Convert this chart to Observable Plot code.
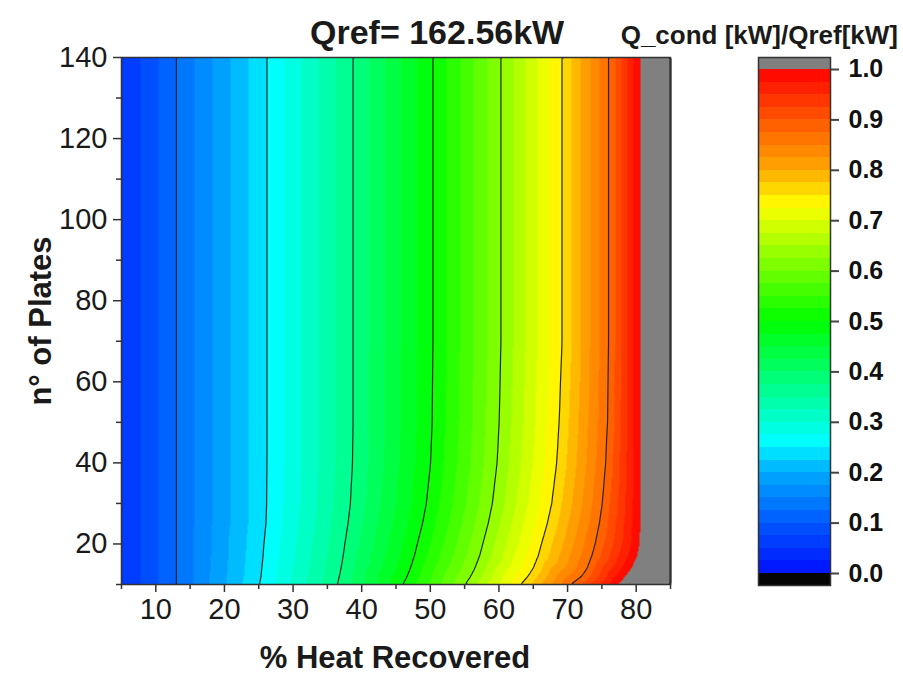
<!DOCTYPE html>
<html>
<head>
<meta charset="utf-8">
<script src="https://cdn.jsdelivr.net/npm/d3@7"></script>
<script src="https://cdn.jsdelivr.net/npm/@observablehq/plot@0.6"></script>
<style>
  body { margin: 0; background: #fff; }
  #wrap { position: relative; width: 903px; height: 683px; overflow: hidden; background: #fff; }
  #wrap > svg, #wrap > figure { position: absolute; margin: 0; }
</style>
</head>
<body>
<div id="wrap"></div>
<script>
// ---------------- data ----------------
// Q_cond/Qref level of each contour crossing
const levels = [0.125, 0.25, 0.375, 0.5, 0.625, 0.75, 0.875, 1.0];
// rows (n° of plates) at which the crossings were read
const plateRows = [10, 12, 14, 17, 20, 25, 30, 40, 50, 70, 140];
// % heat recovered where each level is crossed, one list per row
const crossingX = [
  [13.0, 25.10, 36.45, 46.00, 55.10, 63.20, 70.50, 77.40],
  [13.0, 25.34, 36.75, 46.62, 55.88, 64.22, 72.04, 78.42],
  [13.0, 25.45, 37.00, 47.10, 56.50, 65.00, 72.86, 79.32],
  [13.0, 25.63, 37.30, 47.67, 57.18, 65.72, 73.53, 80.12],
  [13.0, 25.76, 37.55, 48.11, 57.65, 66.20, 74.02, 80.50],
  [13.0, 26.05, 38.01, 48.86, 58.43, 67.04, 74.63, 80.60],
  [13.0, 26.15, 38.36, 49.43, 59.05, 67.70, 75.07, 80.60],
  [13.0, 26.20, 38.66, 50.05, 59.73, 68.42, 75.56, 80.60],
  [13.0, 26.20, 38.75, 50.27, 60.04, 68.78, 75.83, 80.60],
  [13.0, 26.20, 38.75, 50.40, 60.30, 69.20, 76.00, 80.60],
  [13.0, 26.20, 38.75, 50.40, 60.30, 69.20, 76.00, 80.60]
];
// values at the left and right edges of the plotted range
const edgeX = [5, 85];
const edgeValue = [0.048, 1.2];
// contour lines drawn in black
const lineLevels = [0.125, 0.25, 0.375, 0.5, 0.625, 0.75, 0.875];
// axes
const xDomain = [5, 85];
const yDomain = [10, 140];
const xTicks = [10, 20, 30, 40, 50, 60, 70, 80];
const xMinorTicks = [5, 15, 25, 35, 45, 55, 65, 75, 85];
const yTicks = [20, 40, 60, 80, 100, 120, 140];
const yMinorTicks = [10, 30, 50, 70, 90, 110, 130];
const colorTicks = [0, 0.1, 0.2, 0.3, 0.4, 0.5, 0.6, 0.7, 0.8, 0.9, 1.0];
const titleText = "Qref= 162.56kW";
const legendTitle = "Q_cond [kW]/Qref[kW]";
const xLabel = "% Heat Recovered";
const yLabel = "n\u00b0 of Plates";

// ---------------- build table ----------------
const points = [];
plateRows.forEach((n, i) => {
  points.push({x: edgeX[0], n, v: edgeValue[0]});
  crossingX[i].forEach((x, j) => points.push({x, n, v: levels[j]}));
  points.push({x: edgeX[1], n, v: edgeValue[1]});
});

// ---------------- colour map (style) ----------------
const rainbow = d3.scaleLinear()
  .domain([0, 0.1, 0.2, 0.26, 0.5, 0.73, 0.8, 0.9, 1.0])
  .range(["#0010ff", "#0058ff", "#00aaff", "#00ffff", "#00ff00", "#ffff00", "#ffa800", "#ff5600", "#ff0000"])
  .interpolate(d3.interpolateRgb).clamp(true);
const nBands = 40;
const bandEdges = d3.range(nBands + 1).map(i => i / nBands);
const bandColors = ["#050505", ...d3.range(nBands).map(i => rainbow((i + 0.5) / nBands)), "#808080"];
const colorScale = {type: "threshold", domain: bandEdges, range: bandColors};

const font = "'Liberation Sans', Arial, sans-serif";
const wrap = document.getElementById("wrap");

// ---------------- main plot ----------------
const main = Plot.plot({
  width: 700, height: 683,
  marginLeft: 121, marginRight: 30, marginTop: 57, marginBottom: 99,
  x: {domain: xDomain, label: null},
  y: {domain: yDomain, label: null},
  color: colorScale,
  style: {fontFamily: font, fontSize: "29px", color: "#1a1a1a", background: "transparent", overflow: "visible"},
  marks: [
    Plot.raster(points, {x: "x", y: "n", fill: "v", interpolate: "barycentric", pixelSize: 1}),
    Plot.contour(points, {x: "x", y: "n", value: "v", interpolate: "barycentric", thresholds: lineLevels,
      stroke: "#262626", strokeWidth: 1.2, fill: "none"}),
    Plot.frame({stroke: "#333", strokeWidth: 1.5}),
    Plot.axisX({ticks: xTicks, tickSize: 8, tickPadding: 6, label: null, stroke: "#333", strokeWidth: 1.5}),
    Plot.axisX({ticks: xMinorTicks, tickSize: 5, tickFormat: () => "", label: null, stroke: "#333", strokeWidth: 1.5}),
    Plot.axisY({ticks: yTicks, tickSize: 8, tickPadding: 6, label: null, stroke: "#333", strokeWidth: 1.5}),
    Plot.axisY({ticks: yMinorTicks, tickSize: 5, tickFormat: () => "", label: null, stroke: "#333", strokeWidth: 1.5})
  ]
});
main.style.left = "0px"; main.style.top = "0px";
wrap.appendChild(main);

// ---------------- colour bar ----------------
const bands = [
  {lo: -0.0238, hi: 0, mid: -0.01},
  ...d3.range(nBands).map(i => ({lo: bandEdges[i], hi: bandEdges[i + 1], mid: (i + 0.5) / nBands})),
  {lo: 1, hi: 1.0238, mid: 1.01}
];
const bar = Plot.plot({
  width: 163, height: 683,
  marginLeft: 18, marginRight: 73, marginTop: 57, marginBottom: 98,
  x: {domain: [0, 1], axis: null},
  y: {domain: [-0.0238, 1.0238], label: null},
  color: colorScale,
  style: {fontFamily: font, fontSize: "25px", fontWeight: "bold", color: "#111", background: "transparent", overflow: "visible"},
  marks: [
    Plot.rect(bands, {x1: 0, x2: 1, y1: "lo", y2: "hi", fill: "mid", shapeRendering: "crispEdges"}),
    Plot.frame({stroke: "#333", strokeWidth: 1.5}),
    Plot.axisY({anchor: "right", ticks: colorTicks, tickFormat: d3.format(".1f"), tickSize: 8, tickPadding: 10,
      label: null, stroke: "#444", strokeWidth: 2})
  ]
});
bar.style.left = "740px"; bar.style.top = "0px";
wrap.appendChild(bar);

// ---------------- titles and axis labels ----------------
const overlay = d3.create("svg").attr("width", 903).attr("height", 683)
  .style("left", "0px").style("top", "0px").style("pointer-events", "none")
  .attr("font-family", font).attr("font-weight", "bold").attr("fill", "#1a1a1a");
overlay.append("text").attr("x", 310).attr("y", 44).attr("font-size", 34).text(titleText);
overlay.append("text").attr("x", 898).attr("y", 44).attr("font-size", 26).attr("text-anchor", "end").text(legendTitle);
overlay.append("text").attr("x", 395).attr("y", 668).attr("font-size", 31).attr("text-anchor", "middle").text(xLabel);
overlay.append("text").attr("transform", "translate(51,321) rotate(-90)").attr("font-size", 31)
  .attr("text-anchor", "middle").text(yLabel);
wrap.appendChild(overlay.node());
</script>
</body>
</html>
